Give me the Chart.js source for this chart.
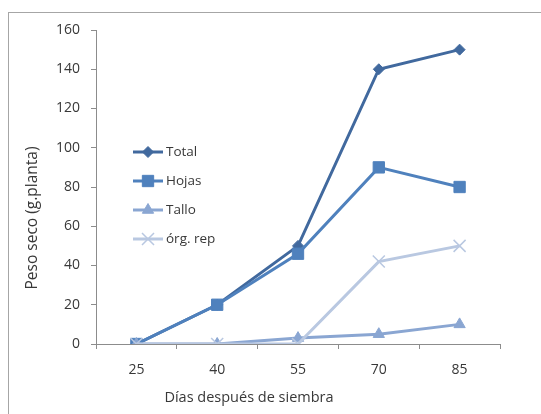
<!DOCTYPE html>
<html>
<head>
<meta charset="utf-8">
<script src="https://cdn.jsdelivr.net/npm/chart.js@4"></script>
<style>
    html, body { margin: 0; padding: 0; background: #fff; }
    #wrap { position: relative; width: 541px; height: 414px; overflow: hidden; }
    #frame { position: absolute; left: 8px; top: 12px; width: 600px; height: 500px;
             border-left: 1px solid #a6a6a6; border-top: 1px solid #a6a6a6; }
    canvas { position: absolute; left: 0; top: 0; }
</style>
</head>
<body>
<div id="wrap">
    <div id="frame"></div>
    <canvas id="pesoChart" width="541" height="414"></canvas>
</div>
<script>
// Peso seco por órgano vs días después de siembra
const dias = ['25', '40', '55', '70', '85'];
const total = [0, 20, 50, 140, 150];
const hojas = [0, 20, 46, 90, 80];
const tallo = [0, 0, 3, 5, 10];
const orgRep = [0, 0, 0, 42, 50];
const yTicks = [0, 20, 40, 60, 80, 100, 120, 140, 160];

const fontFamily = "'Open Sans', 'Noto Sans', sans-serif";
const axisColor = '#8c8c8c';
const textColor = '#383838';

// later series sit on top, as in the spreadsheet original
function serie(label, data, color, pointStyle, radius, borderWidth, order) {
    return {
        label: label,
        data: data,
        order: order,
        borderColor: color,
        backgroundColor: color,
        pointBackgroundColor: color,
        pointBorderColor: color,
        pointStyle: pointStyle,
        pointRadius: radius,
        pointBorderWidth: borderWidth,
        borderWidth: 3,
        tension: 0
    };
}

// legend drawn inside the plot, like the original
const insideLegend = {
    id: 'insideLegend',
    afterDraw(chart) {
        const ctx = chart.ctx;
        const x0 = 133, x1 = 163, yStart = 152, gap = 29;
        ctx.save();
        ctx.font = '13.5px ' + fontFamily;
        ctx.textBaseline = 'middle';
        chart.data.datasets.forEach((ds, i) => {
            const y = yStart + i * gap;
            ctx.strokeStyle = ds.borderColor;
            ctx.lineWidth = 3;
            ctx.beginPath();
            ctx.moveTo(x0, y);
            ctx.lineTo(x1, y);
            ctx.stroke();
            ctx.fillStyle = ds.pointBackgroundColor;
            ctx.strokeStyle = ds.pointBorderColor;
            ctx.lineWidth = ds.pointBorderWidth;
            Chart.helpers.drawPoint(ctx, {
                pointStyle: ds.pointStyle,
                radius: ds.pointRadius,
                rotation: 0,
                borderWidth: ds.pointBorderWidth
            }, (x0 + x1) / 2, y);
            ctx.fillStyle = textColor;
            ctx.fillText(ds.label, x1 + 3, y);
        });
        ctx.restore();
    }
};

// axis titles, placed where the original has them
const axisTitles = {
    id: 'axisTitles',
    afterDraw(chart) {
        const ctx = chart.ctx;
        ctx.save();
        ctx.fillStyle = textColor;
        ctx.textAlign = 'center';
        ctx.textBaseline = 'middle';
        ctx.font = '14.5px ' + fontFamily;
        ctx.fillText('Días después de siembra', 249, 398);
        ctx.translate(33, 218);
        ctx.rotate(-Math.PI / 2);
        ctx.font = '15.5px ' + fontFamily;
        ctx.fillText('Peso seco (g.planta)', 0, 0);
        ctx.restore();
    }
};

const ctx = document.getElementById('pesoChart').getContext('2d');
new Chart(ctx, {
    type: 'line',
    data: {
        labels: dias,
        datasets: [
            serie('Total', total, '#41699e', 'rectRot', 5.5, 1, 3),
            serie('Hojas', hojas, '#4f81bd', 'rect', 8, 1, 2),
            serie('Tallo', tallo, '#8aa6d2', 'triangle', 6.5, 1, 1),
            serie('órg. rep', orgRep, '#b9c8e1', 'crossRot', 8.5, 1.5, 0)
        ]
    },
    options: {
        responsive: false,
        animation: false,
        devicePixelRatio: 1,
        layout: { padding: { top: 30, right: 41, left: 0, bottom: 0 } },
        plugins: {
            legend: { display: false },
            tooltip: { enabled: false }
        },
        scales: {
            x: {
                offset: true,
                afterFit(scale) { scale.height = 70; },
                grid: { offset: true, drawOnChartArea: false, drawTicks: true, tickLength: 5, color: axisColor },
                border: { color: axisColor, width: 1 },
                ticks: { color: textColor, padding: 13, font: { size: 14, family: fontFamily } }
            },
            y: {
                min: 0,
                max: 160,
                afterFit(scale) { scale.width = 96; },
                afterBuildTicks(scale) { scale.ticks = yTicks.map(v => ({ value: v })); },
                grid: { drawOnChartArea: false, drawTicks: true, tickLength: 5, color: axisColor },
                border: { color: axisColor, width: 1 },
                ticks: { color: textColor, padding: 11, font: { size: 14, family: fontFamily } }
            }
        }
    },
    plugins: [insideLegend, axisTitles]
});
</script>
</body>
</html>
